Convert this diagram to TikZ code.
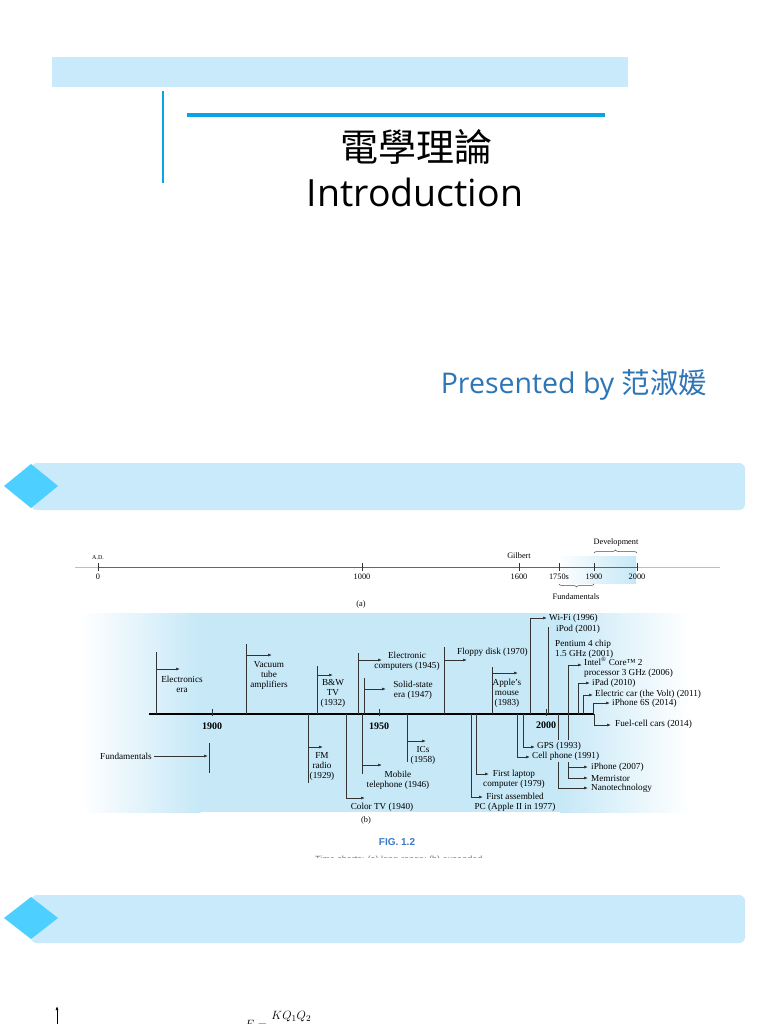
\documentclass[tikz,border=0pt]{standalone}
\usepackage{fontspec}
\setmainfont{Liberation Serif}
\newfontfamily\cjkfont{Noto Sans CJK TC}
\newfontfamily\osans{Open Sans}
\newfontfamily\lsans{Liberation Sans}
\usetikzlibrary{arrows.meta,decorations.pathreplacing}
\definecolor{bandblue}{HTML}{C8EAFB}
\definecolor{diamondblue}{HTML}{4DCFFF}
\definecolor{lineblue}{HTML}{0AA3E6}
\definecolor{presblue}{HTML}{2E75B6}
\definecolor{figblue}{HTML}{3A78C8}
\definecolor{tlblue}{HTML}{C6E8F7}
\tikzset{
  tl/.style={font=\fontsize{9.2}{10}\selectfont, inner sep=0pt, align=center},
  tlw/.style={tl, anchor=west, align=left},
  tla/.style={font=\fontsize{8.3}{9}\selectfont, inner sep=0pt},
  yr/.style={font=\fontsize{10}{11}\selectfont\bfseries, inner sep=0pt},
  vline/.style={draw=black!80, line width=0.7pt},
  arr/.style={-{Latex[length=4pt,width=3pt]}, line width=0.7pt, draw=black!80},
  band/.style={fill=bandblue, rounded corners=6pt},
  gem/.style={fill=diamondblue}
}
\newcommand\evt[5]{%
  \draw[vline] (#1,#2) -- (#1,#3);
  \draw[arr] (#1,#4) -- (#5,#4);}
\begin{document}
\begin{tikzpicture}[x=1pt,y=-1pt]
\useasboundingbox (0,0) rectangle (768,1024);
\fill[white] (0,0) rectangle (768,1024);

% ---------- title ----------
\fill[bandblue] (52,57) rectangle (628,87);
\draw[lineblue, line width=2.5pt] (163,91) -- (163,183);
\draw[lineblue, line width=4pt] (187,115) -- (605,115);
\node[font=\cjkfont\fontsize{38}{42}\selectfont, inner sep=0pt] (t1) at (416,147) {電學理論};
\node[font=\osans\fontsize{37.5}{42}\selectfont, inner sep=0pt] (t2) at (415,192) {Introduction};
\node[font=\osans\fontsize{28.5}{32}\selectfont, text=presblue, inner sep=0pt] (pres) at (574,385) {Presented by {\cjkfont 范淑媛}};

% ---------- bands ----------
\fill[band] (31,463) rectangle (745,510);
\fill[gem] (4,486) -- (31,464) -- (58,486) -- (31,508) -- cycle;
\fill[band] (31,895) rectangle (745,943);
\fill[gem] (4,918) -- (31,897) -- (58,918) -- (31,939) -- cycle;

% ---------- timeline (a) ----------
\shade[left color=white, right color=tlblue] (556,556) rectangle (636,583);
\draw[black!25, line width=0.8pt] (75,567) -- (98,567);
\draw[black!25, line width=0.8pt] (637,567) -- (720,567);
\draw[black!60, line width=0.8pt] (98,567) -- (637,567);
\foreach \x in {98,362,519,559,594,637} \draw[black!80, line width=0.7pt] (\x,563) -- (\x,571);
\node[font=\fontsize{6}{7}\selectfont, inner sep=0pt] (ad) at (98,558) {A.D.};
\node[tla] (a0) at (98,577) {0};
\node[tla] (a1000) at (362,577) {1000};
\node[tla] (a1600) at (519,577) {1600};
\node[tla] (a1750) at (559,577) {1750s};
\node[tla] (a1900) at (594,577) {1900};
\node[tla] (a2000) at (637,577) {2000};
\node[tla] (gil) at (519,556) {Gilbert};
\node[tla] (dev) at (616,542) {Development};
\node[tla] (fun) at (576,597) {Fundamentals};
\draw[black!70, line width=0.5pt, decorate, decoration={brace, amplitude=3pt}] (594,553) -- (637,553);
\draw[black!70, line width=0.5pt, decorate, decoration={brace, amplitude=3pt}] (594,584) -- (559,584);
\node[tla] (capa) at (361,604) {(a)};

% ---------- timeline (b) ----------
\shade[left color=white, right color=tlblue] (80,613) rectangle (200.5,812);
\fill[tlblue] (200,613) rectangle (560.5,812);
\shade[left color=tlblue, right color=white] (560,613) rectangle (690,812);

\coordinate (axL) at (149,714);
\coordinate (axR) at (594,714);
\draw[black, line width=2.4pt] (axL) -- (axR);
\foreach \x in {212,379,546} \draw[black!80, line width=0.7pt] (\x,709) -- (\x,716);
\node[yr] (y1900) at (212,726) {1900};
\node[yr] (y1950) at (379,726) {1950};
\node[yr] (y2000) at (546,725) {2000};

% above the axis
\evt{156}{652}{714}{669}{180}
\node[tl] (e1) at (182,684) {Electronics\\era};
\evt{246}{644}{714}{655}{272}
\node[tl] (e2) at (269,675) {Vacuum\\tube\\amplifiers};
\evt{317}{666}{714}{675}{333}
\node[tl] (e3) at (333,693) {B\&W\\TV\\(1932)};
\evt{358}{653}{714}{660}{382}
\node[tl] (e4) at (407,661) {Electronic\\computers (1945)};
\evt{364}{678}{714}{689}{386}
\node[tl] (e5) at (413,690) {Solid-state\\era (1947)};
\evt{444}{647}{714}{660}{467}
\node[tlw] (e6) at (457,652) {Floppy disk (1970)};
\evt{492}{667}{714}{673}{518}
\node[tl] (e7) at (507,693) {Apple’s\\mouse\\(1983)};
\evt{530}{618}{714}{618}{547}
\node[tlw] (e8) at (549,618) {Wi-Fi (1996)};
\draw[vline] (548,627) -- (548,714);
\node[tlw] (e9) at (556,629) {iPod (2001)};
\node[tlw] (e10) at (555,649) {Pentium 4 chip\\1.5 GHz (2001)};
\evt{568}{665}{714}{665}{582}
\node[tlw] (e11) at (584,667) {Intel\textsuperscript{®} Core™ 2\\processor 3 GHz (2006)};
\evt{578}{683}{714}{683}{590}
\node[tlw] (e12) at (592,683) {iPad (2010)};
\evt{583}{695}{714}{695}{593}
\node[tlw] (e13) at (595,694) {Electric car (the Volt) (2011)};
\evt{593}{703}{714}{703}{610}
\node[tlw] (e14) at (612,703) {iPhone 6S (2014)};

% below the axis
\node[tl, anchor=east] (f0) at (152,756) {Fundamentals};
\draw[arr] (f0.east) ++(2,0) coordinate (f0a) -- (208,756);
\draw[vline] (209,743) -- (209,773);
\evt{308}{714}{783}{747}{323}
\node[tl] (e15) at (322,766) {FM\\radio\\(1929)};
\evt{346}{714}{798}{798}{365}
\node[tl] (e16) at (382,807) {Color TV (1940)};
\evt{362}{714}{774}{765}{382}
\node[tl] (e17) at (398,780) {Mobile\\telephone (1946)};
\evt{407}{714}{762}{741}{426}
\node[tl] (e18) at (423,755) {ICs\\(1958)};
\evt{476}{714}{774}{774}{489}
\node[tl] (e19) at (514,779) {First laptop\\computer (1979)};
\evt{471}{714}{797}{797}{483}
\node[tl] (e20) at (515,802) {First assembled\\PC (Apple II in 1977)};
\evt{517}{714}{757}{757}{530}
\node[tlw] (e21) at (532,756) {Cell phone (1991)};
\evt{523}{714}{747}{747}{535}
\node[tlw] (e22) at (537,746) {GPS (1993)};
% lines interrupted by the GPS / Cell phone labels
\draw[vline] (568,714) -- (568,740);
\draw[vline] (568,762) -- (568,778);
\draw[arr] (568,767) -- (588,767);
\node[tlw] (e23) at (591,767) {iPhone (2007)};
\draw[arr] (568,778) -- (588,778);
\node[tlw] (e24) at (591,778) {Memristor};
\draw[vline] (558,714) -- (558,740);
\draw[vline] (558,762) -- (558,788);
\draw[arr] (558,788) -- (588,788);
\node[tlw] (e25) at (591,788) {Nanotechnology};
\evt{594}{714}{725}{725}{611}
\node[tlw] (e26) at (615,724) {Fuel-cell cars (2014)};

\node[tla] (capb) at (366,820) {(b)};
\node[font=\lsans\bfseries\fontsize{10}{12}\selectfont, text=figblue, inner sep=0pt] (fig) at (397,842) {FIG. 1.2};
\begin{scope}
\clip (250,853) rectangle (520,857.3);
\node[font=\lsans\fontsize{9}{10}\selectfont, text=black!55, anchor=base, inner sep=0pt] (figcap) at (400,862) {Time charts: (a) long-range; (b) expanded.};
\end{scope}

% ---------- bottom (cut off) ----------
\coordinate (arb) at (57,1030);
\coordinate (art) at (57,1006);
\draw[-{Latex[length=4pt,width=3pt]}, line width=1pt] (arb) -- (art);
\node[font=\fontsize{13}{15}\selectfont, anchor=base west, inner sep=0pt] (coul) at (245,1028) {$F=\displaystyle\frac{KQ_1Q_2}{r^2}$};
\end{tikzpicture}
\end{document}
